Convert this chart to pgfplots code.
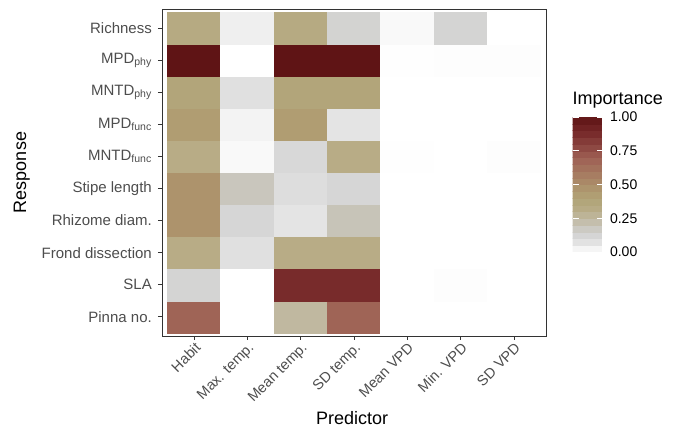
\documentclass[border=0pt]{standalone}
\usepackage{fontspec}
\setmainfont{Liberation Sans}
\usepackage{pgfplots}
\pgfplotsset{compat=1.18}
\definecolor{tickgray}{HTML}{4D4D4D}
\definecolor{framegray}{HTML}{333333}
\pgfplotstableread{
x y v
0 0 0.68
1 0 0.0
2 0 0.25
3 0 0.68
4 0 0.0
5 0 0.0
6 0 0.0
0 1 0.13
1 1 0.0
2 1 0.88
3 1 0.88
4 1 0.0
5 1 0.005
6 1 0.0
0 2 0.32
1 2 0.08
2 2 0.32
3 2 0.32
4 2 0.0
5 2 0.0
6 2 0.0
0 3 0.48
1 3 0.12
2 3 0.07
3 3 0.20
4 3 0.0
5 3 0.0
6 3 0.0
0 4 0.48
1 4 0.19
2 4 0.09
3 4 0.12
4 4 0.0
5 4 0.0
6 4 0.0
0 5 0.32
1 5 0.015
2 5 0.11
3 5 0.32
4 5 0.003
5 5 0.0
6 5 0.005
0 6 0.43
1 6 0.03
2 6 0.43
3 6 0.07
4 6 0.0
5 6 0.0
6 6 0.0
0 7 0.38
1 7 0.08
2 7 0.38
3 7 0.38
4 7 0.0
5 7 0.0
6 7 0.0
0 8 1.0
1 8 0.0
2 8 1.0
3 8 1.0
4 8 0.003
5 8 0.005
6 8 0.005
0 9 0.34
1 9 0.04
2 9 0.34
3 9 0.14
4 9 0.015
5 9 0.13
6 9 0.0
}\datatable
\begin{document}
\begin{tikzpicture}
\path[use as bounding box] (0,0) rectangle (678pt,433pt);
\begin{axis}[
  at={(162pt,97pt)}, anchor=south west,
  width=384pt, height=327pt, scale only axis,
  xmin=-0.6, xmax=6.6, ymin=-0.6, ymax=9.6,
  xtick={0,...,6}, ytick={0,...,9},
  tick pos=left,
  xticklabels={Habit, Max. temp., Mean temp., SD temp., Mean VPD, Min. VPD, SD VPD},
  yticklabels={Pinna no., SLA, Frond dissection, Rhizome diam., Stipe length, MNTD\textsubscript{func}, MPD\textsubscript{func}, MNTD\textsubscript{phy}, MPD\textsubscript{phy}, Richness},
  xticklabel style={rotate=45, anchor=north east, font=\fontsize{14.5}{16}\selectfont, text=tickgray, inner sep=1pt},
  yticklabel style={font=\fontsize{15}{16}\selectfont, text=tickgray, inner sep=2pt, xshift=-4pt},
  tick align=outside, major tick length=4pt,
  tick style={framegray, line width=0.8pt},
  axis line style={framegray, line width=0.8pt},
  xlabel={Predictor}, ylabel={Response},
  xlabel style={font=\fontsize{18}{20}\selectfont, at={(axis description cs:0.495,-0.25)}, anchor=center},
  ylabel style={font=\fontsize{18}{20}\selectfont, at={(axis description cs:-0.365,0.5)}, anchor=center, rotate=0},
  point meta min=0, point meta max=1,
  colormap={imp}{rgb255(0pt)=(255,255,255) rgb255(4pt)=(239,239,239) rgb255(7pt)=(228,228,228) rgb255(9pt)=(221,221,221) rgb255(12pt)=(214,214,214) rgb255(14pt)=(211,211,209) rgb255(19pt)=(201,198,189) rgb255(25pt)=(192,184,160) rgb255(32pt)=(184,172,134) rgb255(38pt)=(178,165,122) rgb255(43pt)=(176,157,114) rgb255(48pt)=(173,147,108) rgb255(70pt)=(158,95,84) rgb255(88pt)=(120,43,43) rgb255(100pt)=(95,20,21)},
  colorbar sampled,
  colorbar style={
    at={(parent axis.south east)}, anchor=south west,
    xshift=18pt, yshift=84pt,
    width=30pt, height=135pt, scale only axis,
    samples=21,
    ytick={0,0.25,0.5,0.75,1},
    yticklabel pos=right,
    ytick pos=both,
    tick align=inside, major tick length=6pt,
    ytick style={white, line width=0.8pt},
    axis line style={draw=none},
    yticklabel style={font=\fontsize{14}{16}\selectfont, text=black, xshift=4pt, /pgf/number format/.cd, fixed, fixed zerofill, precision=2, assume math mode=true},
    title={Importance},
    title style={at={(0,1)}, anchor=south west, inner sep=0pt, yshift=3pt, font=\fontsize{18}{20}\selectfont},
  },
]
\addplot[matrix plot*, mesh/cols=7, point meta=explicit] table[x=x, y=y, meta=v] {\datatable};
\end{axis}
\end{tikzpicture}
\end{document}
